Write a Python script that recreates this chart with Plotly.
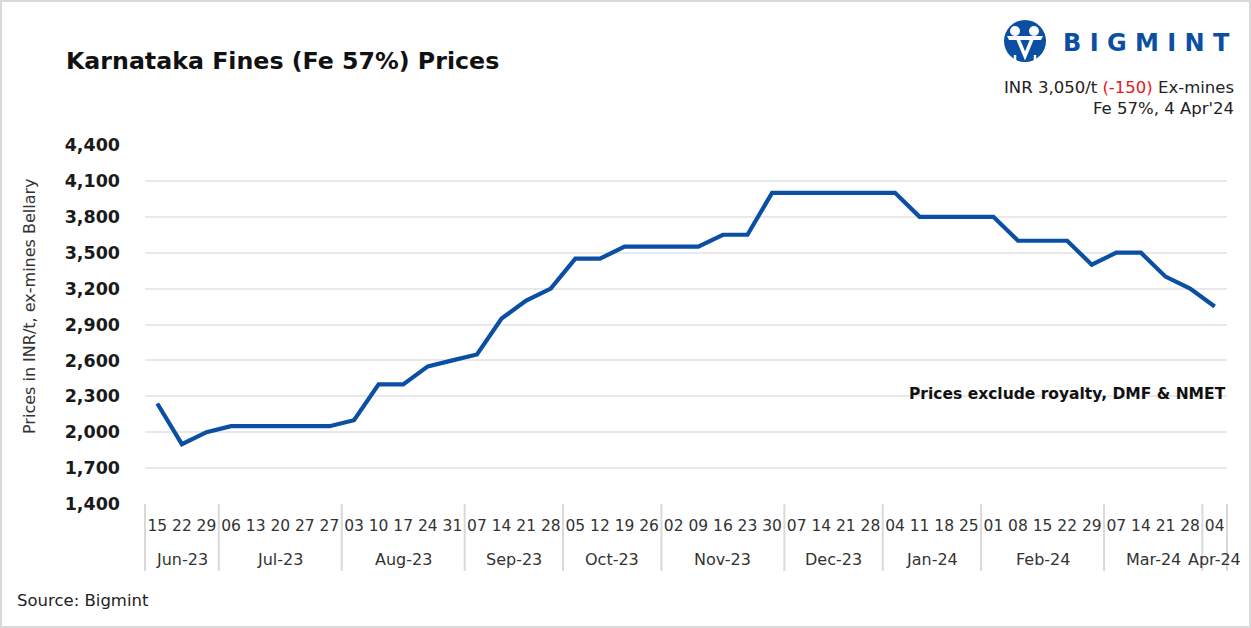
import plotly.graph_objects as go

# ---------------- data ----------------
months = ["Jun-23", "Jul-23", "Aug-23", "Sep-23", "Oct-23", "Nov-23",
          "Dec-23", "Jan-24", "Feb-24", "Mar-24", "Apr-24"]
month_days = [
    ["15", "22", "29"],
    ["06", "13", "20", "27", "27"],
    ["03", "10", "17", "24", "31"],
    ["07", "14", "21", "28"],
    ["05", "12", "19", "26"],
    ["02", "09", "16", "23", "30"],
    ["07", "14", "21", "28"],
    ["04", "11", "18", "25"],
    ["01", "08", "15", "22", "29"],
    ["07", "14", "21", "28"],
    ["04"],
]
prices = [2240, 1900, 2000, 2050, 2050, 2050, 2050, 2050,
          2100, 2400, 2400, 2550, 2600, 2650, 2950, 3100, 3200,
          3450, 3450, 3550, 3550, 3550, 3550, 3650, 3650,
          4000, 4000, 4000, 4000, 4000, 4000,
          3800, 3800, 3800, 3800,
          3600, 3600, 3600,
          3400, 3500, 3500, 3300, 3200, 3050]
y_ticks = [1400, 1700, 2000, 2300, 2600, 2900, 3200, 3500, 3800, 4100, 4400]

title = "Karnataka Fines (Fe 57%) Prices"
y_title = "Prices in INR/t, ex-mines Bellary"
note = "Prices exclude royalty, DMF & NMET"
source = "Source: Bigmint"
info1 = "INR 3,050/t <span style='color:#e8141b'>(-150)</span> Ex-mines"
info2 = "Fe 57%, 4 Apr'24"

# ---------------- layout geometry ----------------
W, H = 1251, 628
L, R, T, B = 145, 1227, 145, 504
FONT = "DejaVu Sans"
BLUE = "#0a4fa3"
GRID = "#e9e9e9"
DIV = "#d9d9d9"


def px(x):
    return (x - L) / (R - L)


def py(y):
    return (B - y) / (B - T)


days = [d for grp in month_days for d in grp]
xs = list(range(len(days)))
n = len(days)

fig = go.Figure()
fig.add_trace(go.Scatter(
    x=xs, y=prices, mode="lines",
    line=dict(color=BLUE, width=4.2),
    hoverinfo="skip", showlegend=False,
))

shapes = []
annotations = []

# month group dividers and labels
start = 0
bounds = [0]
for m, grp in zip(months, month_days):
    end = start + len(grp)
    center = (start + end - 1) / 2.0
    annotations.append(dict(
        x=(center + 0.5) / n, y=0, xref="paper", yref="paper",
        text=m, showarrow=False, xanchor="center", yanchor="top",
        yshift=-44, font=dict(family=FONT, size=16, color="#333333"),
    ))
    bounds.append(end)
    start = end
for b in bounds:
    shapes.append(dict(
        type="line", xref="paper", yref="paper",
        x0=b / n, x1=b / n, y0=0, y1=py(571),
        line=dict(color=DIV, width=2),
    ))

# outer border
shapes.append(dict(type="rect", xref="paper", yref="paper",
                   x0=px(1), x1=px(W - 1), y0=py(1), y1=py(H - 1),
                   line=dict(color=DIV, width=2), layer="below"))

# logo icon
cx, cy, r = 1025, 41, 21
shapes.append(dict(type="circle", xref="paper", yref="paper",
                   x0=px(cx - r), x1=px(cx + r), y0=py(cy + r), y1=py(cy - r),
                   fillcolor=BLUE, line=dict(width=0)))
for hx in (cx - 10, cx + 9):
    shapes.append(dict(type="circle", xref="paper", yref="paper",
                       x0=px(hx - 5), x1=px(hx + 5), y0=py(cy - 5), y1=py(cy - 15),
                       fillcolor="white", line=dict(width=0)))
band = "M {0},{1} L {2},{3} L {4},{5} L {6},{7} Z".format(
    px(cx - 18), py(cy - 5), px(cx + 18), py(cy - 5),
    px(cx + 16), py(cy - 1), px(cx - 16), py(cy - 1))
shapes.append(dict(type="path", xref="paper", yref="paper", path=band,
                   fillcolor="white", line=dict(width=0)))
vpath = "M {0},{1} L {2},{3} L {4},{5}".format(
    px(cx - 7), py(cy - 2), px(cx), py(cy + 15), px(cx + 7), py(cy - 2))
shapes.append(dict(type="path", xref="paper", yref="paper", path=vpath,
                   line=dict(color="white", width=3.5)))
for sx in (cx - 10, cx + 10):
    shapes.append(dict(type="line", xref="paper", yref="paper",
                       x0=px(sx), x1=px(sx), y0=py(cy + 14), y1=py(cy + 22),
                       line=dict(color="white", width=2.5)))

annotations += [
    dict(x=px(1232), y=py(43), xref="paper", yref="paper", text="<b>B I G M I N T</b>",
         showarrow=False, xanchor="right", yanchor="middle",
         font=dict(family="DejaVu Sans", size=24, color=BLUE)),
    dict(x=px(64), y=py(61), xref="paper", yref="paper", text="<b>" + title + "</b>",
         showarrow=False, xanchor="left", yanchor="middle",
         font=dict(family=FONT, size=23.7, color="#111111")),
    dict(x=px(1236), y=py(88), xref="paper", yref="paper", text=info1,
         showarrow=False, xanchor="right", yanchor="middle",
         font=dict(family=FONT, size=16.5, color="#222222")),
    dict(x=px(1236), y=py(109), xref="paper", yref="paper", text=info2,
         showarrow=False, xanchor="right", yanchor="middle",
         font=dict(family=FONT, size=16.5, color="#222222")),
    dict(x=px(1228), y=py(394), xref="paper", yref="paper", text="<b>" + note + "</b>",
         showarrow=False, xanchor="right", yanchor="middle",
         font=dict(family=FONT, size=15.5, color="#111111")),
    dict(x=px(15), y=py(600), xref="paper", yref="paper", text=source,
         showarrow=False, xanchor="left", yanchor="middle",
         font=dict(family=FONT, size=16.5, color="#222222")),
    dict(x=px(29), y=py(306), xref="paper", yref="paper", text=y_title,
         showarrow=False, xanchor="center", yanchor="middle", textangle=-90,
         font=dict(family=FONT, size=16, color="#333333")),
]

fig.update_layout(
    width=W, height=H,
    margin=dict(l=L, r=W - R, t=T, b=H - B, pad=0),
    paper_bgcolor="white", plot_bgcolor="white",
    showlegend=False,
    shapes=shapes, annotations=annotations,
    xaxis=dict(
        range=[-0.5, n - 0.5], tickmode="array", tickvals=xs, ticktext=days,
        showgrid=False, zeroline=False, showline=False, ticks="",
        tickfont=dict(family=FONT, size=15.5, color="#333333"),
        ticklabelstandoff=10, tickangle=0, fixedrange=True,
    ),
    yaxis=dict(
        range=[1400, 4400], tickmode="array", tickvals=y_ticks,
        tickformat=",", showgrid=True, gridcolor=GRID, gridwidth=1.6,
        zeroline=False, showline=False, ticks="",
        tickfont=dict(family=FONT, size=17.5, color="#1a1a1a", weight="bold"),
        ticklabelstandoff=24, fixedrange=True,
    ),
)

fig.write_html("out.html", config={"displayModeBar": False},
               post_script="document.body.style.margin='0';document.body.style.padding='0';")
